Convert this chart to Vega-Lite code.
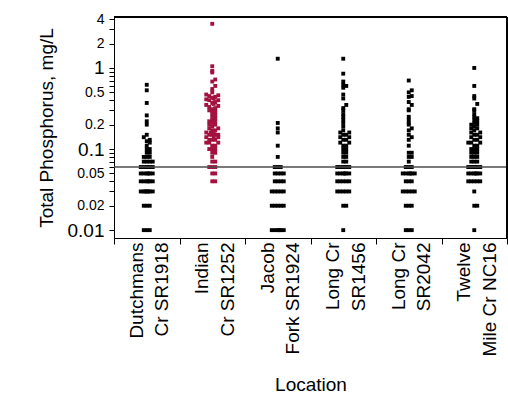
{
  "$schema": "https://vega.github.io/schema/vega-lite/v6.json",
  "width": 393,
  "height": 221,
  "autosize": {"type": "none"},
  "padding": {"left": 114, "top": 17, "right": 1, "bottom": 161},
  "background": "white",
  "config": {
    "font": "Liberation Sans",
    "view": {"stroke": "black", "strokeWidth": 1},
    "axis": {"domainColor": "black", "tickColor": "black", "labelColor": "black", "titleColor": "black", "titleFontWeight": "normal", "grid": false}
  },
  "datasets": {
    "tp": [
      {"Location": "Dutchmans Cr SR1918", "TP": 0.62}, {"Location": "Dutchmans Cr SR1918", "TP": 0.53}, {"Location": "Dutchmans Cr SR1918", "TP": 0.37}, {"Location": "Dutchmans Cr SR1918", "TP": 0.26}, {"Location": "Dutchmans Cr SR1918", "TP": 0.22}, {"Location": "Dutchmans Cr SR1918", "TP": 0.2}, {"Location": "Dutchmans Cr SR1918", "TP": 0.15}, {"Location": "Dutchmans Cr SR1918", "TP": 0.14}, {"Location": "Dutchmans Cr SR1918", "TP": 0.13}, {"Location": "Dutchmans Cr SR1918", "TP": 0.125}, {"Location": "Dutchmans Cr SR1918", "TP": 0.12}, {"Location": "Dutchmans Cr SR1918", "TP": 0.11}, {"Location": "Dutchmans Cr SR1918", "TP": 0.1}, {"Location": "Dutchmans Cr SR1918", "TP": 0.1}, {"Location": "Dutchmans Cr SR1918", "TP": 0.09}, {"Location": "Dutchmans Cr SR1918", "TP": 0.09}, {"Location": "Dutchmans Cr SR1918", "TP": 0.08}, {"Location": "Dutchmans Cr SR1918", "TP": 0.08}, {"Location": "Dutchmans Cr SR1918", "TP": 0.08}, {"Location": "Dutchmans Cr SR1918", "TP": 0.07}, {"Location": "Dutchmans Cr SR1918", "TP": 0.07}, {"Location": "Dutchmans Cr SR1918", "TP": 0.07}, {"Location": "Dutchmans Cr SR1918", "TP": 0.07},
      {"Location": "Dutchmans Cr SR1918", "TP": 0.06}, {"Location": "Dutchmans Cr SR1918", "TP": 0.06}, {"Location": "Dutchmans Cr SR1918", "TP": 0.06}, {"Location": "Dutchmans Cr SR1918", "TP": 0.06}, {"Location": "Dutchmans Cr SR1918", "TP": 0.06}, {"Location": "Dutchmans Cr SR1918", "TP": 0.06},
      {"Location": "Dutchmans Cr SR1918", "TP": 0.05}, {"Location": "Dutchmans Cr SR1918", "TP": 0.05}, {"Location": "Dutchmans Cr SR1918", "TP": 0.05}, {"Location": "Dutchmans Cr SR1918", "TP": 0.05}, {"Location": "Dutchmans Cr SR1918", "TP": 0.05}, {"Location": "Dutchmans Cr SR1918", "TP": 0.05},
      {"Location": "Dutchmans Cr SR1918", "TP": 0.04}, {"Location": "Dutchmans Cr SR1918", "TP": 0.04}, {"Location": "Dutchmans Cr SR1918", "TP": 0.04}, {"Location": "Dutchmans Cr SR1918", "TP": 0.04}, {"Location": "Dutchmans Cr SR1918", "TP": 0.04}, {"Location": "Dutchmans Cr SR1918", "TP": 0.04},
      {"Location": "Dutchmans Cr SR1918", "TP": 0.03}, {"Location": "Dutchmans Cr SR1918", "TP": 0.03}, {"Location": "Dutchmans Cr SR1918", "TP": 0.03}, {"Location": "Dutchmans Cr SR1918", "TP": 0.03}, {"Location": "Dutchmans Cr SR1918", "TP": 0.03}, {"Location": "Dutchmans Cr SR1918", "TP": 0.03}, {"Location": "Dutchmans Cr SR1918", "TP": 0.03},
      {"Location": "Dutchmans Cr SR1918", "TP": 0.02}, {"Location": "Dutchmans Cr SR1918", "TP": 0.02}, {"Location": "Dutchmans Cr SR1918", "TP": 0.02},
      {"Location": "Dutchmans Cr SR1918", "TP": 0.01}, {"Location": "Dutchmans Cr SR1918", "TP": 0.01}, {"Location": "Dutchmans Cr SR1918", "TP": 0.01},

      {"Location": "Indian Cr SR1252", "TP": 3.5}, {"Location": "Indian Cr SR1252", "TP": 1.05}, {"Location": "Indian Cr SR1252", "TP": 0.92}, {"Location": "Indian Cr SR1252", "TP": 0.88}, {"Location": "Indian Cr SR1252", "TP": 0.72}, {"Location": "Indian Cr SR1252", "TP": 0.68}, {"Location": "Indian Cr SR1252", "TP": 0.6}, {"Location": "Indian Cr SR1252", "TP": 0.55}, {"Location": "Indian Cr SR1252", "TP": 0.5}, {"Location": "Indian Cr SR1252", "TP": 0.47}, {"Location": "Indian Cr SR1252", "TP": 0.46}, {"Location": "Indian Cr SR1252", "TP": 0.45}, {"Location": "Indian Cr SR1252", "TP": 0.44}, {"Location": "Indian Cr SR1252", "TP": 0.43}, {"Location": "Indian Cr SR1252", "TP": 0.42}, {"Location": "Indian Cr SR1252", "TP": 0.41}, {"Location": "Indian Cr SR1252", "TP": 0.4}, {"Location": "Indian Cr SR1252", "TP": 0.4}, {"Location": "Indian Cr SR1252", "TP": 0.38}, {"Location": "Indian Cr SR1252", "TP": 0.37}, {"Location": "Indian Cr SR1252", "TP": 0.36}, {"Location": "Indian Cr SR1252", "TP": 0.35}, {"Location": "Indian Cr SR1252", "TP": 0.34}, {"Location": "Indian Cr SR1252", "TP": 0.33}, {"Location": "Indian Cr SR1252", "TP": 0.32}, {"Location": "Indian Cr SR1252", "TP": 0.31}, {"Location": "Indian Cr SR1252", "TP": 0.3}, {"Location": "Indian Cr SR1252", "TP": 0.3}, {"Location": "Indian Cr SR1252", "TP": 0.29}, {"Location": "Indian Cr SR1252", "TP": 0.28}, {"Location": "Indian Cr SR1252", "TP": 0.27}, {"Location": "Indian Cr SR1252", "TP": 0.26}, {"Location": "Indian Cr SR1252", "TP": 0.25}, {"Location": "Indian Cr SR1252", "TP": 0.24}, {"Location": "Indian Cr SR1252", "TP": 0.23}, {"Location": "Indian Cr SR1252", "TP": 0.22}, {"Location": "Indian Cr SR1252", "TP": 0.22}, {"Location": "Indian Cr SR1252", "TP": 0.21}, {"Location": "Indian Cr SR1252", "TP": 0.2}, {"Location": "Indian Cr SR1252", "TP": 0.2}, {"Location": "Indian Cr SR1252", "TP": 0.19}, {"Location": "Indian Cr SR1252", "TP": 0.18}, {"Location": "Indian Cr SR1252", "TP": 0.18}, {"Location": "Indian Cr SR1252", "TP": 0.17}, {"Location": "Indian Cr SR1252", "TP": 0.17}, {"Location": "Indian Cr SR1252", "TP": 0.16}, {"Location": "Indian Cr SR1252", "TP": 0.16}, {"Location": "Indian Cr SR1252", "TP": 0.16}, {"Location": "Indian Cr SR1252", "TP": 0.15}, {"Location": "Indian Cr SR1252", "TP": 0.15}, {"Location": "Indian Cr SR1252", "TP": 0.15}, {"Location": "Indian Cr SR1252", "TP": 0.15}, {"Location": "Indian Cr SR1252", "TP": 0.14}, {"Location": "Indian Cr SR1252", "TP": 0.14}, {"Location": "Indian Cr SR1252", "TP": 0.14}, {"Location": "Indian Cr SR1252", "TP": 0.13}, {"Location": "Indian Cr SR1252", "TP": 0.13}, {"Location": "Indian Cr SR1252", "TP": 0.13}, {"Location": "Indian Cr SR1252", "TP": 0.12}, {"Location": "Indian Cr SR1252", "TP": 0.12}, {"Location": "Indian Cr SR1252", "TP": 0.12}, {"Location": "Indian Cr SR1252", "TP": 0.11}, {"Location": "Indian Cr SR1252", "TP": 0.11}, {"Location": "Indian Cr SR1252", "TP": 0.1}, {"Location": "Indian Cr SR1252", "TP": 0.1}, {"Location": "Indian Cr SR1252", "TP": 0.1}, {"Location": "Indian Cr SR1252", "TP": 0.09}, {"Location": "Indian Cr SR1252", "TP": 0.09}, {"Location": "Indian Cr SR1252", "TP": 0.08}, {"Location": "Indian Cr SR1252", "TP": 0.07}, {"Location": "Indian Cr SR1252", "TP": 0.07}, {"Location": "Indian Cr SR1252", "TP": 0.06}, {"Location": "Indian Cr SR1252", "TP": 0.06}, {"Location": "Indian Cr SR1252", "TP": 0.06}, {"Location": "Indian Cr SR1252", "TP": 0.05}, {"Location": "Indian Cr SR1252", "TP": 0.05}, {"Location": "Indian Cr SR1252", "TP": 0.04}, {"Location": "Indian Cr SR1252", "TP": 0.04},

      {"Location": "Jacob Fork SR1924", "TP": 1.3}, {"Location": "Jacob Fork SR1924", "TP": 0.21}, {"Location": "Jacob Fork SR1924", "TP": 0.18}, {"Location": "Jacob Fork SR1924", "TP": 0.16}, {"Location": "Jacob Fork SR1924", "TP": 0.11}, {"Location": "Jacob Fork SR1924", "TP": 0.08},
      {"Location": "Jacob Fork SR1924", "TP": 0.06}, {"Location": "Jacob Fork SR1924", "TP": 0.06}, {"Location": "Jacob Fork SR1924", "TP": 0.06},
      {"Location": "Jacob Fork SR1924", "TP": 0.05}, {"Location": "Jacob Fork SR1924", "TP": 0.05}, {"Location": "Jacob Fork SR1924", "TP": 0.05}, {"Location": "Jacob Fork SR1924", "TP": 0.05},
      {"Location": "Jacob Fork SR1924", "TP": 0.04}, {"Location": "Jacob Fork SR1924", "TP": 0.04}, {"Location": "Jacob Fork SR1924", "TP": 0.04}, {"Location": "Jacob Fork SR1924", "TP": 0.04},
      {"Location": "Jacob Fork SR1924", "TP": 0.03}, {"Location": "Jacob Fork SR1924", "TP": 0.03}, {"Location": "Jacob Fork SR1924", "TP": 0.03}, {"Location": "Jacob Fork SR1924", "TP": 0.03}, {"Location": "Jacob Fork SR1924", "TP": 0.03},
      {"Location": "Jacob Fork SR1924", "TP": 0.02}, {"Location": "Jacob Fork SR1924", "TP": 0.02}, {"Location": "Jacob Fork SR1924", "TP": 0.02}, {"Location": "Jacob Fork SR1924", "TP": 0.02}, {"Location": "Jacob Fork SR1924", "TP": 0.02},
      {"Location": "Jacob Fork SR1924", "TP": 0.01}, {"Location": "Jacob Fork SR1924", "TP": 0.01}, {"Location": "Jacob Fork SR1924", "TP": 0.01}, {"Location": "Jacob Fork SR1924", "TP": 0.01}, {"Location": "Jacob Fork SR1924", "TP": 0.01}, {"Location": "Jacob Fork SR1924", "TP": 0.01},

      {"Location": "Long Cr SR1456", "TP": 1.3}, {"Location": "Long Cr SR1456", "TP": 0.85}, {"Location": "Long Cr SR1456", "TP": 0.68}, {"Location": "Long Cr SR1456", "TP": 0.62}, {"Location": "Long Cr SR1456", "TP": 0.6}, {"Location": "Long Cr SR1456", "TP": 0.57}, {"Location": "Long Cr SR1456", "TP": 0.47}, {"Location": "Long Cr SR1456", "TP": 0.42}, {"Location": "Long Cr SR1456", "TP": 0.35}, {"Location": "Long Cr SR1456", "TP": 0.32}, {"Location": "Long Cr SR1456", "TP": 0.3}, {"Location": "Long Cr SR1456", "TP": 0.27}, {"Location": "Long Cr SR1456", "TP": 0.25}, {"Location": "Long Cr SR1456", "TP": 0.23}, {"Location": "Long Cr SR1456", "TP": 0.21}, {"Location": "Long Cr SR1456", "TP": 0.19}, {"Location": "Long Cr SR1456", "TP": 0.17}, {"Location": "Long Cr SR1456", "TP": 0.16}, {"Location": "Long Cr SR1456", "TP": 0.16}, {"Location": "Long Cr SR1456", "TP": 0.15}, {"Location": "Long Cr SR1456", "TP": 0.15}, {"Location": "Long Cr SR1456", "TP": 0.14}, {"Location": "Long Cr SR1456", "TP": 0.14}, {"Location": "Long Cr SR1456", "TP": 0.13}, {"Location": "Long Cr SR1456", "TP": 0.13}, {"Location": "Long Cr SR1456", "TP": 0.12}, {"Location": "Long Cr SR1456", "TP": 0.12}, {"Location": "Long Cr SR1456", "TP": 0.11}, {"Location": "Long Cr SR1456", "TP": 0.11}, {"Location": "Long Cr SR1456", "TP": 0.1}, {"Location": "Long Cr SR1456", "TP": 0.1}, {"Location": "Long Cr SR1456", "TP": 0.09}, {"Location": "Long Cr SR1456", "TP": 0.09}, {"Location": "Long Cr SR1456", "TP": 0.08}, {"Location": "Long Cr SR1456", "TP": 0.08}, {"Location": "Long Cr SR1456", "TP": 0.07}, {"Location": "Long Cr SR1456", "TP": 0.07},
      {"Location": "Long Cr SR1456", "TP": 0.06}, {"Location": "Long Cr SR1456", "TP": 0.06}, {"Location": "Long Cr SR1456", "TP": 0.06}, {"Location": "Long Cr SR1456", "TP": 0.06}, {"Location": "Long Cr SR1456", "TP": 0.06}, {"Location": "Long Cr SR1456", "TP": 0.06},
      {"Location": "Long Cr SR1456", "TP": 0.05}, {"Location": "Long Cr SR1456", "TP": 0.05}, {"Location": "Long Cr SR1456", "TP": 0.05}, {"Location": "Long Cr SR1456", "TP": 0.05}, {"Location": "Long Cr SR1456", "TP": 0.05}, {"Location": "Long Cr SR1456", "TP": 0.05},
      {"Location": "Long Cr SR1456", "TP": 0.04}, {"Location": "Long Cr SR1456", "TP": 0.04}, {"Location": "Long Cr SR1456", "TP": 0.04}, {"Location": "Long Cr SR1456", "TP": 0.04}, {"Location": "Long Cr SR1456", "TP": 0.04},
      {"Location": "Long Cr SR1456", "TP": 0.03}, {"Location": "Long Cr SR1456", "TP": 0.03}, {"Location": "Long Cr SR1456", "TP": 0.03}, {"Location": "Long Cr SR1456", "TP": 0.03}, {"Location": "Long Cr SR1456", "TP": 0.03},
      {"Location": "Long Cr SR1456", "TP": 0.02}, {"Location": "Long Cr SR1456", "TP": 0.02},
      {"Location": "Long Cr SR1456", "TP": 0.01},

      {"Location": "Long Cr SR2042", "TP": 0.7}, {"Location": "Long Cr SR2042", "TP": 0.53}, {"Location": "Long Cr SR2042", "TP": 0.5}, {"Location": "Long Cr SR2042", "TP": 0.45}, {"Location": "Long Cr SR2042", "TP": 0.44}, {"Location": "Long Cr SR2042", "TP": 0.38}, {"Location": "Long Cr SR2042", "TP": 0.35}, {"Location": "Long Cr SR2042", "TP": 0.31}, {"Location": "Long Cr SR2042", "TP": 0.3}, {"Location": "Long Cr SR2042", "TP": 0.25}, {"Location": "Long Cr SR2042", "TP": 0.23}, {"Location": "Long Cr SR2042", "TP": 0.21}, {"Location": "Long Cr SR2042", "TP": 0.2}, {"Location": "Long Cr SR2042", "TP": 0.18}, {"Location": "Long Cr SR2042", "TP": 0.17}, {"Location": "Long Cr SR2042", "TP": 0.15}, {"Location": "Long Cr SR2042", "TP": 0.14}, {"Location": "Long Cr SR2042", "TP": 0.13}, {"Location": "Long Cr SR2042", "TP": 0.11}, {"Location": "Long Cr SR2042", "TP": 0.09}, {"Location": "Long Cr SR2042", "TP": 0.09}, {"Location": "Long Cr SR2042", "TP": 0.08}, {"Location": "Long Cr SR2042", "TP": 0.08}, {"Location": "Long Cr SR2042", "TP": 0.07},
      {"Location": "Long Cr SR2042", "TP": 0.06}, {"Location": "Long Cr SR2042", "TP": 0.06}, {"Location": "Long Cr SR2042", "TP": 0.06},
      {"Location": "Long Cr SR2042", "TP": 0.05}, {"Location": "Long Cr SR2042", "TP": 0.05}, {"Location": "Long Cr SR2042", "TP": 0.05}, {"Location": "Long Cr SR2042", "TP": 0.05}, {"Location": "Long Cr SR2042", "TP": 0.05}, {"Location": "Long Cr SR2042", "TP": 0.05},
      {"Location": "Long Cr SR2042", "TP": 0.04}, {"Location": "Long Cr SR2042", "TP": 0.04}, {"Location": "Long Cr SR2042", "TP": 0.04},
      {"Location": "Long Cr SR2042", "TP": 0.03}, {"Location": "Long Cr SR2042", "TP": 0.03}, {"Location": "Long Cr SR2042", "TP": 0.03}, {"Location": "Long Cr SR2042", "TP": 0.03}, {"Location": "Long Cr SR2042", "TP": 0.03},
      {"Location": "Long Cr SR2042", "TP": 0.02}, {"Location": "Long Cr SR2042", "TP": 0.02}, {"Location": "Long Cr SR2042", "TP": 0.02},
      {"Location": "Long Cr SR2042", "TP": 0.01}, {"Location": "Long Cr SR2042", "TP": 0.01}, {"Location": "Long Cr SR2042", "TP": 0.01},

      {"Location": "Twelve Mile Cr NC16", "TP": 1.0}, {"Location": "Twelve Mile Cr NC16", "TP": 0.6}, {"Location": "Twelve Mile Cr NC16", "TP": 0.45}, {"Location": "Twelve Mile Cr NC16", "TP": 0.42}, {"Location": "Twelve Mile Cr NC16", "TP": 0.36}, {"Location": "Twelve Mile Cr NC16", "TP": 0.31}, {"Location": "Twelve Mile Cr NC16", "TP": 0.3}, {"Location": "Twelve Mile Cr NC16", "TP": 0.27}, {"Location": "Twelve Mile Cr NC16", "TP": 0.25}, {"Location": "Twelve Mile Cr NC16", "TP": 0.24}, {"Location": "Twelve Mile Cr NC16", "TP": 0.23}, {"Location": "Twelve Mile Cr NC16", "TP": 0.22}, {"Location": "Twelve Mile Cr NC16", "TP": 0.21}, {"Location": "Twelve Mile Cr NC16", "TP": 0.2}, {"Location": "Twelve Mile Cr NC16", "TP": 0.2}, {"Location": "Twelve Mile Cr NC16", "TP": 0.19}, {"Location": "Twelve Mile Cr NC16", "TP": 0.18}, {"Location": "Twelve Mile Cr NC16", "TP": 0.18}, {"Location": "Twelve Mile Cr NC16", "TP": 0.17}, {"Location": "Twelve Mile Cr NC16", "TP": 0.16}, {"Location": "Twelve Mile Cr NC16", "TP": 0.16}, {"Location": "Twelve Mile Cr NC16", "TP": 0.15}, {"Location": "Twelve Mile Cr NC16", "TP": 0.15}, {"Location": "Twelve Mile Cr NC16", "TP": 0.14}, {"Location": "Twelve Mile Cr NC16", "TP": 0.14}, {"Location": "Twelve Mile Cr NC16", "TP": 0.13}, {"Location": "Twelve Mile Cr NC16", "TP": 0.13}, {"Location": "Twelve Mile Cr NC16", "TP": 0.12}, {"Location": "Twelve Mile Cr NC16", "TP": 0.12}, {"Location": "Twelve Mile Cr NC16", "TP": 0.12}, {"Location": "Twelve Mile Cr NC16", "TP": 0.11}, {"Location": "Twelve Mile Cr NC16", "TP": 0.11}, {"Location": "Twelve Mile Cr NC16", "TP": 0.1}, {"Location": "Twelve Mile Cr NC16", "TP": 0.1}, {"Location": "Twelve Mile Cr NC16", "TP": 0.1}, {"Location": "Twelve Mile Cr NC16", "TP": 0.09}, {"Location": "Twelve Mile Cr NC16", "TP": 0.09}, {"Location": "Twelve Mile Cr NC16", "TP": 0.09}, {"Location": "Twelve Mile Cr NC16", "TP": 0.08}, {"Location": "Twelve Mile Cr NC16", "TP": 0.08}, {"Location": "Twelve Mile Cr NC16", "TP": 0.08}, {"Location": "Twelve Mile Cr NC16", "TP": 0.07}, {"Location": "Twelve Mile Cr NC16", "TP": 0.07}, {"Location": "Twelve Mile Cr NC16", "TP": 0.07},
      {"Location": "Twelve Mile Cr NC16", "TP": 0.06}, {"Location": "Twelve Mile Cr NC16", "TP": 0.06}, {"Location": "Twelve Mile Cr NC16", "TP": 0.06}, {"Location": "Twelve Mile Cr NC16", "TP": 0.06}, {"Location": "Twelve Mile Cr NC16", "TP": 0.06}, {"Location": "Twelve Mile Cr NC16", "TP": 0.06}, {"Location": "Twelve Mile Cr NC16", "TP": 0.06},
      {"Location": "Twelve Mile Cr NC16", "TP": 0.05}, {"Location": "Twelve Mile Cr NC16", "TP": 0.05}, {"Location": "Twelve Mile Cr NC16", "TP": 0.05}, {"Location": "Twelve Mile Cr NC16", "TP": 0.05}, {"Location": "Twelve Mile Cr NC16", "TP": 0.05}, {"Location": "Twelve Mile Cr NC16", "TP": 0.05},
      {"Location": "Twelve Mile Cr NC16", "TP": 0.04}, {"Location": "Twelve Mile Cr NC16", "TP": 0.04}, {"Location": "Twelve Mile Cr NC16", "TP": 0.04}, {"Location": "Twelve Mile Cr NC16", "TP": 0.04}, {"Location": "Twelve Mile Cr NC16", "TP": 0.04},
      {"Location": "Twelve Mile Cr NC16", "TP": 0.03},
      {"Location": "Twelve Mile Cr NC16", "TP": 0.02}, {"Location": "Twelve Mile Cr NC16", "TP": 0.02},
      {"Location": "Twelve Mile Cr NC16", "TP": 0.01}
    ],
    "ref": [{"TP": 0.06, "kind": "guide"}, {"TP": 4.25, "kind": "frame"}],
    "right": [{"Location": "Twelve Mile Cr NC16"}]
  },
  "layer": [
    {
      "data": {"name": "tp"},
      "encoding": {
        "x": {
          "field": "Location", "type": "nominal",
          "sort": ["Dutchmans Cr SR1918", "Indian Cr SR1252", "Jacob Fork SR1924", "Long Cr SR1456", "Long Cr SR2042", "Twelve Mile Cr NC16"],
          "scale": {"paddingInner": 0, "paddingOuter": 0},
          "axis": {
            "title": "Location", "titleFontSize": 19, "titlePadding": 19,
            "labelAngle": -90, "labelFontSize": 19, "labelLineHeight": 25.5,
            "labelAlign": "right", "labelBaseline": "middle", "labelOffset": -10.5,
            "labelPadding": -2, "tickSize": 6, "tickBand": "extent",
            "labelExpr": "{'Dutchmans Cr SR1918': ['Dutchmans', 'Cr SR1918'], 'Indian Cr SR1252': ['Indian', 'Cr SR1252'], 'Jacob Fork SR1924': ['Jacob', 'Fork SR1924'], 'Long Cr SR1456': ['Long Cr', 'SR1456'], 'Long Cr SR2042': ['Long Cr', 'SR2042'], 'Twelve Mile Cr NC16': ['Twelve', 'Mile Cr NC16']}[datum.label]"
          }
        },
        "xOffset": {
          "field": "k", "type": "quantitative",
          "scale": {"domain": [1, 2, 3, 4, 5, 6, 7, 8, 9, 10, 11, 12, 13, 14, 15, 16], "range": [32.75, 35.75, 29.75, 38.75, 26.75, 34.25, 31.25, 37.25, 28.25, 40.25, 25.25, 41.75, 23.75, 43.25, 22.25, 44.75]}
        },
        "y": {
          "field": "TP", "type": "quantitative",
          "scale": {"type": "log", "domain": [0.008, 4.25], "nice": false},
          "axis": {
            "title": "Total Phosphorus, mg/L", "titleFontSize": 19, "titlePadding": 11,
            "values": [0.01, 0.02, 0.03, 0.04, 0.05, 0.06, 0.07, 0.08, 0.09, 0.1, 0.2, 0.3, 0.4, 0.5, 0.6, 0.7, 0.8, 0.9, 1, 2, 3, 4],
            "format": "~g", "labelOverlap": false, "labelFlush": false, "labelPadding": 5, "tickSize": 5,
            "labelExpr": "indexof([0.01, 0.02, 0.05, 0.1, 0.2, 0.5, 1, 2, 4], datum.value) >= 0 ? datum.label : ''",
            "labelFontSize": {"condition": {"test": "datum.value == 0.1 || datum.value == 0.01 || datum.value == 1", "value": 19}, "value": 14}
          }
        },
        "color": {"condition": {"test": "datum.Location == 'Indian Cr SR1252'", "value": "#a3123f"}, "value": "black"}
      },
      "layer": [
        {
          "transform": [
            {"filter": "datum.TP < 0.095"},
            {"window": [{"op": "row_number", "as": "k"}], "groupby": ["Location", "TP"]}
          ],
          "mark": {"type": "square", "size": 15, "opacity": 1, "filled": true}
        },
        {
          "transform": [
            {"filter": "datum.TP >= 0.095 && datum.TP < 0.305"},
            {"bin": {"step": 0.02, "anchor": 0.005}, "field": "TP", "as": "TP_bin"},
            {"window": [{"op": "row_number", "as": "k"}], "groupby": ["Location", "TP_bin"], "sort": [{"field": "TP"}]}
          ],
          "mark": {"type": "square", "size": 15, "opacity": 1, "filled": true}
        },
        {
          "transform": [
            {"filter": "datum.TP >= 0.305"},
            {"bin": {"step": 0.06, "anchor": 0.005}, "field": "TP", "as": "TP_bin"},
            {"window": [{"op": "row_number", "as": "k"}], "groupby": ["Location", "TP_bin"], "sort": [{"field": "TP"}]}
          ],
          "mark": {"type": "square", "size": 15, "opacity": 1, "filled": true}
        }
      ]
    },
    {
      "data": {"name": "ref"},
      "mark": {"type": "rule"},
      "encoding": {
        "y": {"field": "TP", "type": "quantitative"},
        "color": {"condition": {"test": "datum.kind == 'frame'", "value": "black"}, "value": "#4d4d4d"},
        "strokeWidth": {"condition": {"test": "datum.kind == 'frame'", "value": 2}, "value": 1.5}
      }
    },
    {
      "data": {"name": "right"},
      "mark": {"type": "rule", "color": "black", "strokeWidth": 2},
      "encoding": {"x": {"field": "Location", "type": "nominal", "bandPosition": 1}}
    }
  ]
}
